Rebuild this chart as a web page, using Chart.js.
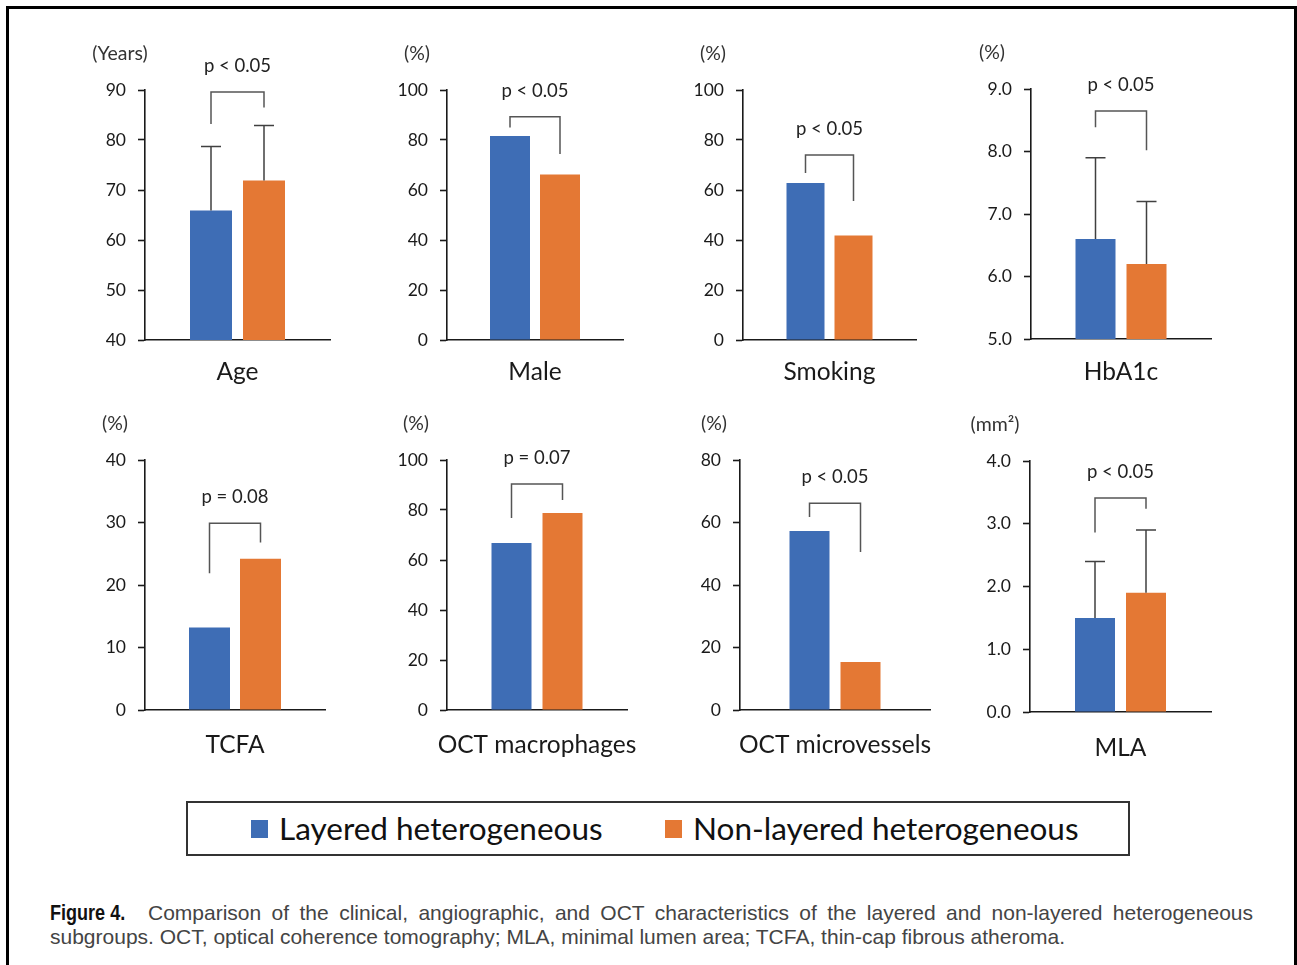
<!DOCTYPE html>
<html>
<head>
<meta charset="utf-8">
<title>Figure 4</title>
<script src="https://cdn.jsdelivr.net/npm/chart.js@4.4.1/dist/chart.umd.min.js"></script>
<style>
  body { margin: 0; background: #fff; width: 1297px; height: 965px; overflow: hidden; position: relative; font-family: Lato, sans-serif; }
  #frame { position: absolute; left: 6px; top: 6px; width: 1285px; height: 990px; border: 3px solid #000; border-bottom: none; }
  .panel { position: absolute; }
  #legend { position: absolute; left: 186px; top: 801px; width: 940px; height: 51px; border: 2px solid #333; }
  #legend .sw { position: absolute; top: 17px; width: 17px; height: 18px; }
  #legend .lt { position: absolute; top: 0; line-height: 51px; font-size: 31.5px; color: #111; white-space: nowrap; }
  #caption { position: absolute; left: 50px; top: 901px; width: 1203px; font-family: "Liberation Sans", Arial, sans-serif; font-size: 21px; line-height: 24px; color: #444; }
  #caption .l1 { text-align: justify; text-align-last: justify; white-space: nowrap; }
  #caption b { display: inline-block; width: 77px; margin-right: 21px; white-space: nowrap; font-size: 22px; color: #111; transform: scaleX(0.82); transform-origin: left center; }
</style>
</head>
<body>
<div id="frame"></div>
<div id="panels"></div>
<div id="legend">
  <span class="sw" style="left:63px;background:#3E6DB5"></span><span class="lt" id="lg0" style="left:91px"></span>
  <span class="sw" style="left:477px;background:#E47834"></span><span class="lt" id="lg1" style="left:505px"></span>
</div>
<div id="caption">
  <div class="l1"><b>Figure 4.</b>Comparison of the clinical, angiographic, and OCT characteristics of the layered and non-layered heterogeneous</div>
  <div class="l2">subgroups. OCT, optical coherence tomography; MLA, minimal lumen area; TCFA, thin-cap fibrous atheroma.</div>
</div>
<script>
// valores
var categories = ["Age", "Male", "Smoking", "HbA1c", "TCFA", "OCT macrophages", "OCT microvessels", "MLA"];
var seriesNames = ["Layered heterogeneous", "Non-layered heterogeneous"];
var layeredValues = [65.9, 81.6, 62.8, 6.6, 13.2, 66.8, 57.3, 1.5];
var nonLayeredValues = [71.9, 66.2, 41.8, 6.2, 24.2, 78.8, 15.4, 1.9];
var layeredSD = [12.8, null, null, 1.3, null, null, null, 0.9];
var nonLayeredSD = [11.0, null, null, 1.0, null, null, null, 1.0];
var pLabels = ["p < 0.05", "p < 0.05", "p < 0.05", "p < 0.05", "p = 0.08", "p = 0.07", "p < 0.05", "p < 0.05"];
var unitLabels = ["(Years)", "(%)", "(%)", "(%)", "(%)", "(%)", "(%)", "(mm\u00B2)"];
var axisMin = [40, 0, 0, 5, 0, 0, 0, 0];
var axisMax = [90, 100, 100, 9, 40, 100, 80, 4];
var axisStep = [10, 20, 20, 1, 10, 20, 20, 1];
var tickDecimals = [0, 0, 0, 1, 0, 0, 0, 1];

var BLUE = "#3E6DB5";
var ORANGE = "#E47834";
var AXIS = "#1a1a1a";

// layout of each small chart (pixels) and bracket levels (axis units)
var panels = [
  {x: 145,  top: 90,  bottom: 340, w: 185, bar: 42, slot: 53, unitDx: -25, labelDy: 32, bracket: [89.6, 83.2, 86.5]},
  {x: 447,  top: 90,  bottom: 340, w: 176, bar: 40, slot: 50, unitDx: -30, labelDy: 32, bracket: [89.3, 85.0, 74.4]},
  {x: 743,  top: 90,  bottom: 340, w: 173, bar: 38, slot: 48, unitDx: -30, labelDy: 32, bracket: [74.0, 66.8, 55.6]},
  {x: 1031, top: 89,  bottom: 339, w: 180, bar: 40, slot: 51, unitDx: -39, labelDy: 33, bracket: [8.65, 8.39, 8.02]},
  {x: 145,  top: 460, bottom: 710, w: 180, bar: 41, slot: 51, unitDx: -30, labelDy: 35, bracket: [29.9, 21.9, 26.8]},
  {x: 447,  top: 460, bottom: 710, w: 180, bar: 40, slot: 51, unitDx: -31, labelDy: 35, bracket: [90.4, 76.8, 84.0]},
  {x: 740,  top: 460, bottom: 710, w: 190, bar: 40, slot: 51, unitDx: -26, labelDy: 35, bracket: [66.2, 61.8, 50.6]},
  {x: 1030, top: 461, bottom: 712, w: 181, bar: 40, slot: 51, unitDx: -35, labelDy: 36, bracket: [3.41, 2.86, 3.24]}
];

var marksPlugin = {
  id: "figureMarks",
  afterDatasetsDraw: function (chart, args, o) {
    var ctx = chart.ctx, area = chart.chartArea, ys = chart.scales.y;
    var bars = [chart.getDatasetMeta(0).data[0], chart.getDatasetMeta(1).data[0]];
    ctx.save();

    // barras de erro
    ctx.strokeStyle = "#404040";
    ctx.lineWidth = 1.5;
    for (var k = 0; k < 2; k++) {
      if (o.sd[k] == null) continue;
      var yTop = ys.getPixelForValue(o.values[k] + o.sd[k]);
      ctx.beginPath();
      ctx.moveTo(bars[k].x, bars[k].y);
      ctx.lineTo(bars[k].x, yTop);
      ctx.moveTo(bars[k].x - 10, yTop);
      ctx.lineTo(bars[k].x + 10, yTop);
      ctx.stroke();
    }

    // colchete de significancia
    var bt = ys.getPixelForValue(o.bracket[0]);
    ctx.strokeStyle = "#555";
    ctx.beginPath();
    ctx.moveTo(bars[0].x, ys.getPixelForValue(o.bracket[1]));
    ctx.lineTo(bars[0].x, bt);
    ctx.lineTo(bars[1].x, bt);
    ctx.lineTo(bars[1].x, ys.getPixelForValue(o.bracket[2]));
    ctx.stroke();

    ctx.fillStyle = "#222";
    ctx.textAlign = "center";
    ctx.textBaseline = "middle";
    ctx.font = "18.5px Lato";
    ctx.fillText(o.p, (bars[0].x + bars[1].x) / 2, bt - 26);

    ctx.fillStyle = "#333";
    ctx.font = "19.5px Lato";
    ctx.fillText(o.unit, area.left + o.unitDx, area.top - 36);

    ctx.fillStyle = "#1a1a1a";
    ctx.font = "24.5px Lato";
    ctx.fillText(o.category, (area.left + area.right) / 2, area.bottom + o.labelDy);
    ctx.restore();
  }
};

var holder = document.getElementById("panels");
panels.forEach(function (p, i) {
  var padTop = 60, padBottom = 60, yWidth = 80, padLeft = 10, padRight = 20;
  var div = document.createElement("div");
  div.className = "panel";
  div.style.left = (p.x - yWidth - padLeft) + "px";
  div.style.top = (p.top - padTop) + "px";
  var canvas = document.createElement("canvas");
  canvas.width = padLeft + yWidth + p.w + padRight;
  canvas.height = padTop + (p.bottom - p.top) + padBottom;
  div.appendChild(canvas);
  holder.appendChild(div);

  var catPct = 2 * p.slot / p.w;
  var barPct = p.bar / p.slot;

  new Chart(canvas.getContext("2d"), {
    type: "bar",
    data: {
      labels: [categories[i]],
      datasets: [
        {label: seriesNames[0], data: [layeredValues[i]], backgroundColor: BLUE, categoryPercentage: catPct, barPercentage: barPct},
        {label: seriesNames[1], data: [nonLayeredValues[i]], backgroundColor: ORANGE, categoryPercentage: catPct, barPercentage: barPct}
      ]
    },
    options: {
      responsive: false,
      animation: false,
      devicePixelRatio: 1,
      layout: {padding: {left: padLeft, right: padRight, top: padTop, bottom: padBottom}},
      plugins: {
        legend: {display: false},
        tooltip: {enabled: false},
        figureMarks: {
          values: [layeredValues[i], nonLayeredValues[i]],
          sd: [layeredSD[i], nonLayeredSD[i]],
          bracket: p.bracket,
          p: pLabels[i],
          unit: unitLabels[i],
          unitDx: p.unitDx,
          category: categories[i],
          labelDy: p.labelDy
        }
      },
      scales: {
        x: {
          ticks: {display: false},
          grid: {display: false, drawTicks: false},
          border: {display: true, color: AXIS, width: 1.6},
          afterFit: function (s) { s.height = 0; }
        },
        y: {
          min: axisMin[i],
          max: axisMax[i],
          ticks: {
            stepSize: axisStep[i],
            padding: 12,
            color: "#1a1a1a",
            font: {family: "Lato", size: 17.5},
            callback: function (v) { return Number(v).toFixed(tickDecimals[i]); }
          },
          grid: {drawOnChartArea: false, drawTicks: true, tickLength: 7, tickColor: AXIS, tickWidth: 1.6},
          border: {display: true, color: AXIS, width: 1.6},
          afterFit: function (s) { s.width = yWidth; }
        }
      }
    },
    plugins: [marksPlugin]
  });
});

document.getElementById("lg0").textContent = seriesNames[0];
document.getElementById("lg1").textContent = seriesNames[1];
</script>
</body>
</html>
